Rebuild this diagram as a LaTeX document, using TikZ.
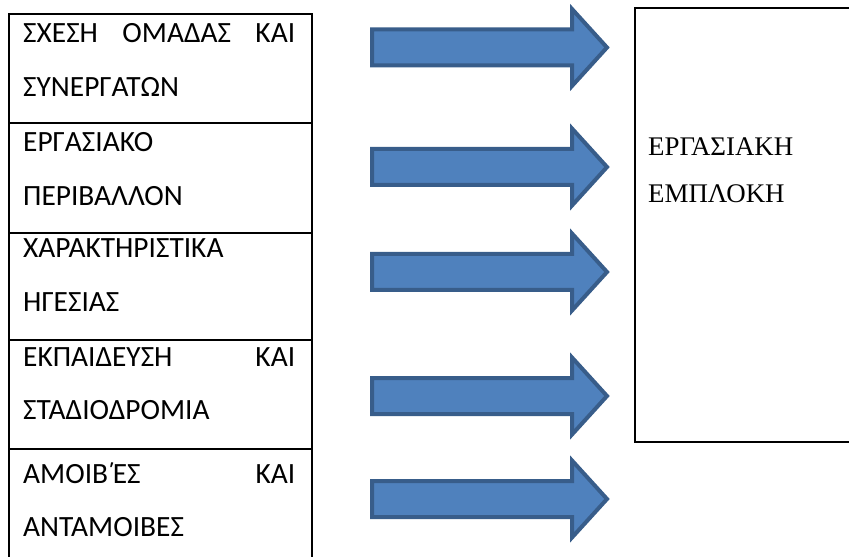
\documentclass[tikz,border=0pt]{standalone}
\usepackage{fontspec}
\setmainfont{Carlito}
\newfontfamily\serifgr{Liberation Serif}
\definecolor{arrowfill}{HTML}{4F81BD}
\definecolor{arrowline}{HTML}{385D8A}
\tikzset{
    factor/.style={draw=black, line width=2bp, anchor=north west, minimum width=303bp, inner sep=0pt},
    factortext/.style={anchor=base west, inner sep=0pt, text width=272bp, align=left, font=\fontsize{29.5}{54}\selectfont},
    outcome/.style={draw=black, line width=2bp, anchor=north west, minimum width=218bp, minimum height=434bp, inner sep=0pt},
    outcometext/.style={anchor=base west, inner sep=0pt, align=left, font=\serifgr\fontsize{27}{48}\selectfont},
    bluearrow/.style={fill=arrowfill, draw=arrowline, line width=4bp, line join=miter}
}
% Carlito draws U+0388 without its tonos, so it is built from U+0384 and E
\newcommand{\Etonos}{\kern-0.06em\symbol{"0384}\kern-0.1em Ε}
\begin{document}
\begin{tikzpicture}[x=1bp, y=-1bp]
        \useasboundingbox (0,0) rectangle (849,557);
        \node[factor, minimum height=109bp] (f1) at (8, 13) {};
        \node[factor, minimum height=110bp] (f2) at (8, 122) {};
        \node[factor, minimum height=107bp] (f3) at (8, 232) {};
        \node[factor, minimum height=109bp] (f4) at (8, 339) {};
        \node[factor, minimum height=114bp] (f5) at (8, 448) {};
        \node[factortext] (t1) at (23, 43) {ΣΧΕΣΗ\hfill ΟΜΑΔΑΣ\hfill ΚΑΙ\\ΣΥΝΕΡΓΑΤΩΝ};
        \node[factortext] (t2) at (23, 152) {ΕΡΓΑΣΙΑΚΟ\\ΠΕΡΙΒΑΛΛΟΝ};
        \node[factortext] (t3) at (23, 258) {ΧΑΡΑΚΤΗΡΙΣΤΙΚΑ\\ΗΓΕΣΙΑΣ};
        \node[factortext] (t4) at (23, 366) {ΕΚΠΑΙΔΕΥΣΗ\hfill ΚΑΙ\\ΣΤΑΔΙΟΔΡΟΜΙΑ};
        \node[factortext] (t5) at (23, 483) {ΑΜΟΙΒ\Etonos Σ\hfill ΚΑΙ\\ΑΝΤΑΜΟΙΒΕΣ};
        \node[outcome] (eng) at (634, 7) {};
        \node[outcometext] (engtext) at (648, 203) {ΕΡΓΑΣΙΑΚΗ\\ΕΜΠΛΟΚΗ};
        \foreach \cy in {47.5, 167, 272, 396, 499} {
            \draw[bluearrow] (372, \cy-18) -- (572, \cy-18) -- (572, \cy-38.5) -- (607, \cy)
                -- (572, \cy+38.5) -- (572, \cy+18) -- (372, \cy+18) -- cycle;
        }
    \end{tikzpicture}
\end{document}
